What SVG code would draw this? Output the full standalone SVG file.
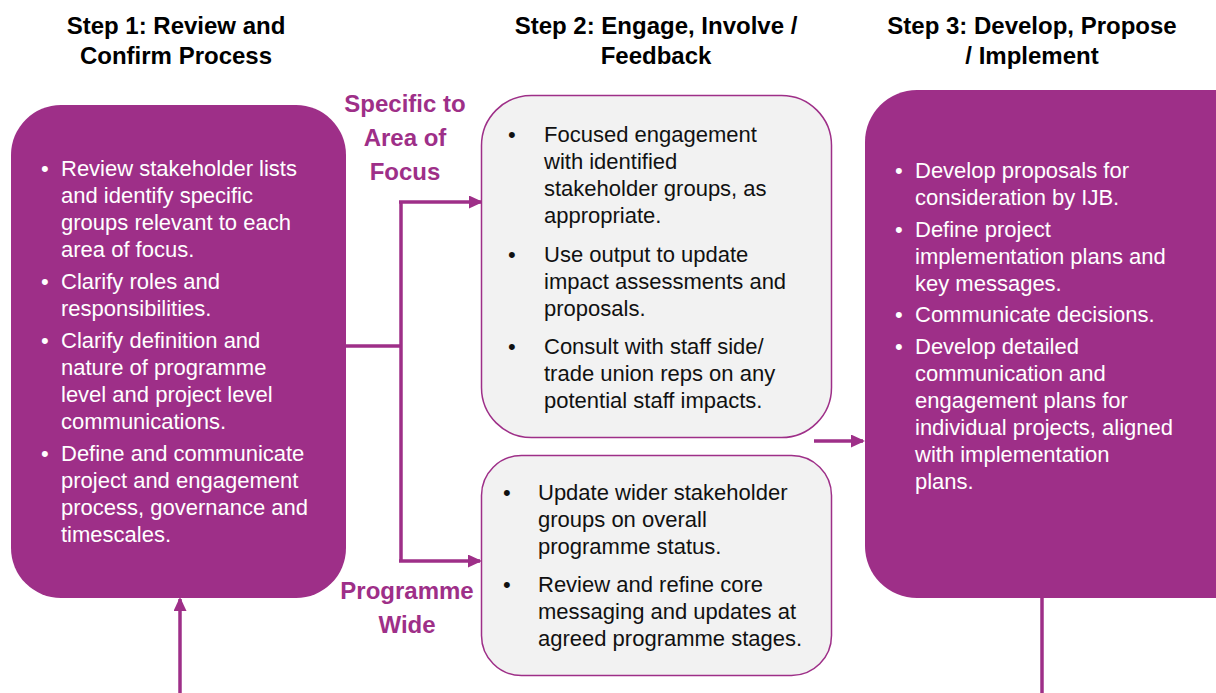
<svg xmlns="http://www.w3.org/2000/svg" width="1216" height="693" viewBox="0 0 1216 693">
  <defs>
    <style>
      .hdr { font-family: "Liberation Sans", Arial, sans-serif; font-weight: bold; font-size: 24px; fill: #000; text-anchor: middle; }
      .lbl { font-family: "Liberation Sans", Arial, sans-serif; font-weight: bold; font-size: 24px; fill: #9E2F88; text-anchor: middle; }
      .body { font-family: "Liberation Sans", Arial, sans-serif; font-size: 22px; }
      .light { fill: #FFFFFF; }
      .dark { fill: #111111; }
      .solid { fill: #9E2F88; }
      .soft { fill: #F2F2F2; stroke: #9E2F88; stroke-width: 1.5; }
      .wire { fill: none; stroke: #9E2F88; stroke-width: 3.5; }
    </style>
    <marker id="arrow" markerWidth="14" markerHeight="13" refX="12" refY="6.5" orient="auto" markerUnits="userSpaceOnUse">
      <path d="M0,0 L14,6.5 L0,13 Z" fill="#9E2F88"/>
    </marker>
  </defs>

  <rect width="1216" height="693" fill="#FFFFFF"/>

  <!-- column headings -->
  <g id="headings">
    <text class="hdr" x="176" y="34">Step 1: Review and</text>
    <text class="hdr" x="176" y="64">Confirm Process</text>
    <text class="hdr" x="656" y="34">Step 2: Engage, Involve /</text>
    <text class="hdr" x="656" y="64">Feedback</text>
    <text class="hdr" x="1032" y="34">Step 3: Develop, Propose</text>
    <text class="hdr" x="1032" y="64">/ Implement</text>
  </g>

  <!-- branch labels -->
  <g id="label-specific">
    <text class="lbl" x="405" y="112">Specific to</text>
    <text class="lbl" x="405" y="146">Area of</text>
    <text class="lbl" x="405" y="180">Focus</text>
  </g>
  <g id="label-programme">
    <text class="lbl" x="407" y="599">Programme</text>
    <text class="lbl" x="407" y="633">Wide</text>
  </g>

  <!-- connectors -->
  <g id="connectors">
    <polyline class="wire" points="346,346 401,346"/>
    <polyline class="wire" points="401,202 401,561"/>
    <line class="wire" x1="399" y1="202" x2="481" y2="202" marker-end="url(#arrow)"/>
    <line class="wire" x1="399" y1="561" x2="480" y2="561" marker-end="url(#arrow)"/>
    <line class="wire" x1="814" y1="441" x2="863" y2="441" marker-end="url(#arrow)"/>
    <line class="wire" x1="180" y1="693" x2="180" y2="599" marker-end="url(#arrow)"/>
    <line class="wire" x1="1042" y1="598" x2="1042" y2="693"/>
  </g>

  <!-- step 1 -->
  <g id="step1">
    <rect class="solid" x="11" y="105" width="335" height="493" rx="50" ry="50"/>
    <g class="body light">
      <text x="41" y="176">•</text>
      <text x="61" y="176">Review stakeholder lists</text>
      <text x="61" y="203">and identify specific</text>
      <text x="61" y="230">groups relevant to each</text>
      <text x="61" y="257">area of focus.</text>
      <text x="41" y="289">•</text>
      <text x="61" y="289">Clarify roles and</text>
      <text x="61" y="316">responsibilities.</text>
      <text x="41" y="348">•</text>
      <text x="61" y="348">Clarify definition and</text>
      <text x="61" y="375">nature of programme</text>
      <text x="61" y="402">level and project level</text>
      <text x="61" y="429">communications.</text>
      <text x="41" y="461">•</text>
      <text x="61" y="461">Define and communicate</text>
      <text x="61" y="488">project and engagement</text>
      <text x="61" y="515">process, governance and</text>
      <text x="61" y="542">timescales.</text>
    </g>
  </g>

  <!-- step 2: area of focus -->
  <g id="step2-focus">
    <rect class="soft" x="481.5" y="95.5" width="350" height="342" rx="50" ry="50"/>
    <g class="body dark">
      <text x="508" y="142">•</text>
      <text x="544" y="142">Focused engagement</text>
      <text x="544" y="169">with identified</text>
      <text x="544" y="196">stakeholder groups, as</text>
      <text x="544" y="223">appropriate.</text>
      <text x="508" y="262">•</text>
      <text x="544" y="262">Use output to update</text>
      <text x="544" y="289">impact assessments and</text>
      <text x="544" y="316">proposals.</text>
      <text x="508" y="354">•</text>
      <text x="544" y="354">Consult with staff side/</text>
      <text x="544" y="381">trade union reps on any</text>
      <text x="544" y="408">potential staff impacts.</text>
    </g>
  </g>

  <!-- step 2: programme wide -->
  <g id="step2-programme">
    <rect class="soft" x="481.5" y="455.5" width="350" height="220" rx="40" ry="40"/>
    <g class="body dark">
      <text x="503" y="500">•</text>
      <text x="538" y="500">Update wider stakeholder</text>
      <text x="538" y="527">groups on overall</text>
      <text x="538" y="554">programme status.</text>
      <text x="503" y="592">•</text>
      <text x="538" y="592">Review and refine core</text>
      <text x="538" y="619">messaging and updates at</text>
      <text x="538" y="646">agreed programme stages.</text>
    </g>
  </g>

  <!-- step 3 -->
  <g id="step3">
    <rect class="solid" x="865" y="90" width="400" height="508" rx="52" ry="52"/>
    <g class="body light">
      <text x="895" y="178">•</text>
      <text x="915" y="178">Develop proposals for</text>
      <text x="915" y="205">consideration by IJB.</text>
      <text x="895" y="237">•</text>
      <text x="915" y="237">Define project</text>
      <text x="915" y="264">implementation plans and</text>
      <text x="915" y="291">key messages.</text>
      <text x="895" y="322">•</text>
      <text x="915" y="322">Communicate decisions.</text>
      <text x="895" y="354">•</text>
      <text x="915" y="354">Develop detailed</text>
      <text x="915" y="381">communication and</text>
      <text x="915" y="408">engagement plans for</text>
      <text x="915" y="435">individual projects, aligned</text>
      <text x="915" y="462">with implementation</text>
      <text x="915" y="489">plans.</text>
    </g>
  </g>
</svg>
